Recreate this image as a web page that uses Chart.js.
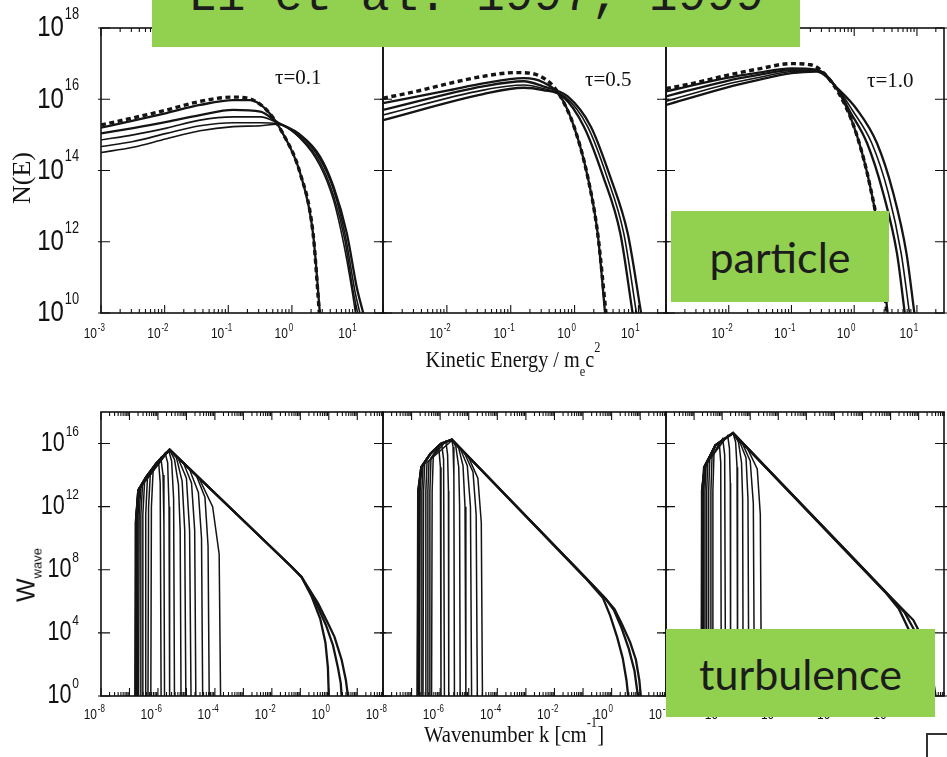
<!DOCTYPE html>
<html>
<head>
<meta charset="utf-8">
<title>Li et al. 1997, 1999</title>
<script src="https://cdn.jsdelivr.net/npm/chart.js@4.4.1/dist/chart.umd.min.js"></script>
<style>
  html, body { margin: 0; padding: 0; background: #fff; }
  #page { position: relative; width: 947px; height: 757px; overflow: hidden; background: #fff; }
  #page canvas { position: absolute; left: 0; top: 0; }
  .lbl { position: absolute; white-space: nowrap; color: #111; line-height: 1; }
  .serif { font-family: "Liberation Serif", "Times New Roman", serif; }
  .sans { font-family: "Liberation Sans", Arial, sans-serif; }
  .green { position: absolute; background: #92d050; overflow: hidden; color: #1c1c1c; }
  .green.word { display: flex; align-items: center; justify-content: center; font-family: Lato, "Open Sans", sans-serif; font-size: 43px; }
  .r { position: relative; }
</style>
</head>
<body>
<div id="page">
  <canvas id="e1" width="947" height="757"></canvas>
  <canvas id="e2" width="947" height="757"></canvas>
  <canvas id="e3" width="947" height="757"></canvas>
  <canvas id="w1" width="947" height="757"></canvas>
  <canvas id="w2" width="947" height="757"></canvas>
  <canvas id="w3" width="947" height="757"></canvas>

  <div class="lbl serif" style="left:275px;top:67px;font-size:21px">τ=0.1</div>
  <div class="lbl serif" style="left:585px;top:69px;font-size:21px">τ=0.5</div>
  <div class="lbl serif" style="left:867px;top:70px;font-size:21px">τ=1.0</div>

  <div class="lbl serif" style="left:22px;top:178px;font-size:26px;transform:translate(-50%,-50%) rotate(-90deg)">N(E)</div>
  <div class="lbl sans" style="left:26px;top:575px;font-size:25px;transform:translate(-50%,-50%) rotate(-90deg)">W<span class="r" style="font-size:13px;top:7px">wave</span></div>

  <div class="lbl serif" style="left:513px;top:348px;font-size:23px;transform:translateX(-50%) scaleX(0.88)">Kinetic Energy / m<span class="r" style="font-size:14px;top:9px">e</span>c<span class="r" style="font-size:14px;top:-15px">2</span></div>
  <div class="lbl serif" style="left:514px;top:723px;font-size:23px;transform:translateX(-50%) scaleX(0.9)">Wavenumber k [cm<span class="r" style="font-size:14px;top:-15px">-1</span>]</div>

  <div class="green" style="left:152px;top:0;width:648px;height:47px">
    <div style="position:absolute;left:0;width:648px;top:-27px;text-align:center;font-family:'Liberation Mono','DejaVu Sans Mono',monospace;font-size:48px;line-height:48px;white-space:nowrap">Li et al. 1997, 1999</div>
  </div>
  <div class="green word" style="left:671px;top:211px;width:218px;height:91px">particle</div>
  <div class="green word" style="left:666px;top:629px;width:269px;height:88px">turbulence</div>
  <div style="position:absolute;left:926px;top:733px;width:30px;height:30px;border:2px solid #333;border-right:none;box-sizing:border-box"></div>
</div>

<script>
const W = 947;
const H = 757;

// axis ranges
const TOP_X_RANGE = [1e-3, 27];
const TOP_Y_RANGE = [1e10, 1e18];
const BOT_X_RANGE = [1e-8, 80];
const BOT_Y_RANGE = [1, 1e18];

// tick labels (10^exp)
const topXTicksFirst = [1e-3, 1e-2, 1e-1, 1, 10];
const topXExpFirst = ['-3', '-2', '-1', '0', '1'];
const topXTicksRest = [1e-2, 1e-1, 1, 10];
const topXExpRest = ['-2', '-1', '0', '1'];
const topYTicks = [1e10, 1e12, 1e14, 1e16, 1e18];
const topYExp = ['10', '12', '14', '16', '18'];
const botXTicks = [1e-8, 1e-6, 1e-4, 1e-2, 1];
const botXExp = ['-8', '-6', '-4', '-2', '0'];
const botYTicks = [1, 1e4, 1e8, 1e12, 1e16];
const botYExp = ['0', '4', '8', '12', '16'];

// ---- particle spectra, tau = 0.1
const e1DashX = [1e-3, 3.2e-3, 1.07e-2, 3.6e-2, 0.12, 0.2, 0.4, 0.72, 1.35, 2.15, 2.7];
const e1DashY = [1.9e15, 3.0e15, 5.0e15, 8.7e15, 1.15e16, 1.07e16, 5.0e15, 1.1e15, 8.3e13, 1.7e12, 1e10];
const e1ThickX = [1e-3, 3.2e-3, 1.07e-2, 3.6e-2, 0.12, 0.22, 0.4, 0.72, 1.35, 2.15, 2.75];
const e1ThickY = [1.6e15, 2.5e15, 4.1e15, 6.9e15, 9.5e15, 9.5e15, 5.0e15, 1.1e15, 8.3e13, 1.7e12, 1e10];
const e1aX = [1e-3, 3.2e-3, 1.07e-2, 3.6e-2, 0.12, 0.32, 0.58, 1.35, 2.75, 4.5, 7.3, 10.5, 13.2];
const e1aY = [1.1e15, 1.55e15, 2.3e15, 3.6e15, 5.0e15, 4.5e15, 2.3e15, 1.0e15, 2.5e14, 3.5e13, 1.7e12, 5e10, 1e10];
const e1bX = [1e-3, 3.2e-3, 1.07e-2, 3.6e-2, 0.12, 0.32, 0.58, 1.35, 2.75, 4.5, 7.0, 9.8, 11.7];
const e1bY = [7.2e14, 1.0e15, 1.55e15, 2.6e15, 3.2e15, 3.2e15, 2.2e15, 9.5e14, 2.1e14, 2.9e13, 1.3e12, 4e10, 1e10];
const e1cX = [1e-3, 3.2e-3, 1.07e-2, 3.6e-2, 0.12, 0.32, 0.58, 1.35, 2.75, 4.5, 6.8, 9.2, 10.8];
const e1cY = [4.7e14, 6.5e14, 1.1e15, 1.8e15, 2.2e15, 2.2e15, 2.1e15, 8.5e14, 1.7e14, 2.0e13, 1.1e12, 4e10, 1e10];
const e1dX = [1e-3, 3.2e-3, 1.07e-2, 3.6e-2, 0.12, 0.32, 0.58, 1.35, 2.75, 4.5, 6.5, 8.7, 10.0];
const e1dY = [3.2e14, 4.5e14, 7.8e14, 1.3e15, 1.7e15, 1.8e15, 2.0e15, 8e14, 1.4e14, 1.5e13, 9e11, 5e10, 1e10];

// ---- particle spectra, tau = 0.5
const e2DashX = [1e-3, 3.3e-3, 1.1e-2, 3.7e-2, 0.12, 0.2, 0.42, 0.6, 0.98, 1.6, 2.3, 3.1];
const e2DashY = [1.07e16, 1.66e16, 2.8e16, 4.4e16, 5.6e16, 5.4e16, 2.8e16, 1.2e16, 1.7e15, 6.8e13, 1.7e12, 1e10];
const e2aX = [1e-3, 1.1e-2, 3.7e-2, 0.16, 0.32, 0.6, 0.98, 1.6, 2.3, 3.0];
const e2aY = [7.8e15, 1.8e16, 2.8e16, 3.9e16, 3.0e16, 1.2e16, 1.7e15, 6.8e13, 1.7e12, 1e10];
const e2bX = [1e-3, 3.7e-2, 0.16, 0.32, 0.78, 1.8, 3.6, 6.8, 11];
const e2bY = [5.0e15, 2.3e16, 3.2e16, 2.3e16, 1.2e16, 1.7e15, 6.8e13, 1.7e12, 1e10];
const e2cX = [1e-3, 3.7e-2, 0.16, 0.32, 0.7, 1.6, 3.2, 5.9, 9.3];
const e2cY = [3.6e15, 1.8e16, 2.5e16, 2.0e16, 1.2e16, 1.7e15, 6.8e13, 1.7e12, 1e10];
const e2dX = [1e-3, 3.7e-2, 0.16, 0.32, 0.65, 1.4, 2.8, 5.2, 8.1];
const e2dY = [2.6e15, 1.4e16, 2.1e16, 1.8e16, 1.2e16, 1.7e15, 6.8e13, 1.7e12, 1e10];

// ---- particle spectra, tau = 1.0
const e3DashX = [1e-3, 2.7e-3, 8.9e-3, 3.0e-2, 0.1, 0.2, 0.33, 0.69, 1.12, 1.8, 2.6, 3.3];
const e3DashY = [2.0e16, 2.8e16, 4.6e16, 7.1e16, 1.0e17, 9.3e16, 5.4e16, 7.8e15, 8.9e14, 3.5e13, 9.1e11, 1e10];
const e3aX = [1e-3, 8.9e-3, 3.0e-2, 0.1, 0.25, 0.58, 1.12, 1.8, 2.6, 3.4];
const e3aY = [1.66e16, 3.9e16, 5.6e16, 7.4e16, 6.8e16, 1.5e16, 8.9e14, 3.5e13, 9.1e11, 1e10];
const e3bX = [1e-3, 8.9e-3, 3.0e-2, 0.1, 0.25, 0.58, 0.83, 1.6, 2.9, 4.8, 6.4];
const e3bY = [1.2e16, 3.2e16, 4.8e16, 6.6e16, 6.5e16, 1.6e16, 5.0e15, 5.9e14, 2.3e13, 4.8e11, 1e10];
const e3cX = [1e-3, 8.9e-3, 3.0e-2, 0.1, 0.25, 0.58, 0.93, 1.9, 3.5, 5.6, 7.6];
const e3cY = [8.7e15, 2.6e16, 4.1e16, 6.0e16, 6.2e16, 1.7e16, 5.0e15, 5.9e14, 2.3e13, 4.8e11, 1e10];
const e3dX = [1e-3, 8.9e-3, 3.0e-2, 0.1, 0.25, 0.58, 1.12, 2.3, 4.2, 6.8, 9.1];
const e3dY = [6.9e15, 2.1e16, 3.5e16, 5.4e16, 6.0e16, 1.8e16, 5.0e15, 5.9e14, 2.3e13, 4.8e11, 1e10];

// ---- wave spectra, panel 1 (long tails + narrow early spectra)
const w1aX = [1.58e-7, 1.66e-7, 2.04e-7, 3.89e-7, 8.71e-7, 2.57e-6, 2.0e-3, 5.0e-2, 0.11, 0.42, 1.0, 1.58, 2.82, 3.98, 4.68];
const w1aY = [1, 1e11, 1.1e13, 7.6e13, 5.4e14, 4.1e15, 4.0e10, 1.5e8, 3.5e7, 7.4e5, 3.2e4, 5.6e3, 200, 10, 1];
const w1bX = [1.66e-7, 1.74e-7, 2.04e-7, 3.89e-7, 8.71e-7, 2.57e-6, 2.0e-3, 5.0e-2, 0.11, 0.25, 0.5, 0.76, 0.93, 1.0];
const w1bY = [1, 1e11, 1.1e13, 7.6e13, 5.4e14, 4.1e15, 4.0e10, 1.5e8, 3.5e7, 2.0e6, 7.9e4, 2.5e3, 63, 1];
const w1cX = [1.62e-7, 1.70e-7, 2.04e-7, 3.89e-7, 8.71e-7, 2.57e-6, 2.0e-3, 5.0e-2, 0.11, 0.32, 0.79, 1.41, 2.09, 2.63, 2.82];
const w1cY = [1, 1e11, 1.1e13, 7.6e13, 5.4e14, 4.1e15, 4.0e10, 1.5e8, 3.5e7, 1.26e6, 3.2e4, 1.6e3, 63, 6.3, 1];
const w1n1X = [5.62e-7, 5.89e-7, 6.76e-7, 1.05e-6, 1.20e-6, 1.29e-6];
const w1n1Y = [1, 1e12, 1.8e14, 7.9e14, 3.2e13, 1];
const w1n2X = [4.47e-7, 4.68e-7, 5.37e-7, 1.26e-6, 1.51e-6, 1.62e-6, 1.70e-6];
const w1n2Y = [1, 1e12, 1e14, 1.26e15, 1e14, 1e11, 1];
const w1n3X = [3.55e-7, 3.72e-7, 4.27e-7, 1.78e-6, 2.19e-6, 2.45e-6, 2.57e-6];
const w1n3Y = [1, 3.2e11, 6.3e13, 2.5e15, 6.3e14, 1e12, 1];
const w1n4X = [2.82e-7, 2.95e-7, 3.39e-7, 2.40e-6, 3.02e-6, 3.55e-6, 3.80e-6];
const w1n4Y = [1, 3.2e11, 3.5e13, 3.5e15, 7.9e14, 3.2e12, 1];
const w1n5X = [2.40e-7, 2.51e-7, 2.88e-7, 8.71e-7, 2.57e-6, 3.80e-6, 5.25e-6, 6.03e-6, 6.46e-6];
const w1n5Y = [1, 3.2e11, 2.5e13, 5.4e14, 4.0e15, 1e15, 2.5e13, 3.2e10, 1];
const w1n6X = [2.09e-7, 2.19e-7, 2.51e-7, 8.71e-7, 2.57e-6, 4.47e-6, 7.08e-6, 8.71e-6, 9.55e-6];
const w1n6Y = [1, 3.2e11, 1.6e13, 5.4e14, 4.0e15, 1.26e15, 4.0e13, 3.2e10, 1];
const w1n7X = [1.91e-7, 2.0e-7, 2.29e-7, 3.89e-7, 8.71e-7, 2.57e-6, 5.01e-6, 1.0e-5, 1.29e-5, 1.45e-5];
const w1n7Y = [1, 3.2e11, 1.26e13, 7.6e13, 5.4e14, 4.0e15, 1.26e15, 6.3e13, 3.2e10, 1];
const w1n8X = [1.78e-7, 1.86e-7, 2.04e-7, 3.89e-7, 8.71e-7, 2.57e-6, 7.94e-6, 1.51e-5, 1.95e-5, 2.14e-5];
const w1n8Y = [1, 3.2e11, 1.1e13, 7.6e13, 5.4e14, 4.0e15, 5.6e14, 3.2e13, 3.2e10, 1];
const w1n9X = [1.70e-7, 1.78e-7, 2.04e-7, 3.89e-7, 8.71e-7, 2.57e-6, 1.26e-5, 2.63e-5, 3.39e-5, 3.72e-5];
const w1n9Y = [1, 3.2e11, 1.1e13, 7.6e13, 5.4e14, 4.0e15, 2.5e14, 7.9e12, 1e10, 1];
const w1n10X = [1.62e-7, 1.70e-7, 2.04e-7, 3.89e-7, 8.71e-7, 2.57e-6, 2.24e-5, 4.47e-5, 5.75e-5, 6.31e-5];
const w1n10Y = [1, 3.2e11, 1.1e13, 7.6e13, 5.4e14, 4.0e15, 9.1e13, 4.0e12, 3.2e9, 1];
const w1n11X = [1.58e-7, 1.66e-7, 2.04e-7, 3.89e-7, 8.71e-7, 2.57e-6, 2.82e-5, 8.32e-5, 1.41e-4, 1.58e-4];
const w1n11Y = [1, 1e11, 1.1e13, 7.6e13, 5.4e14, 4.0e15, 6.0e13, 1e12, 1e9, 1];

// ---- wave spectra, panel 2
const w2aX = [1.62e-7, 1.70e-7, 2.19e-7, 4.57e-7, 1.07e-6, 2.57e-6, 0.117, 0.63, 1.26, 2.24, 4.47, 7.08, 9.33, 10.5];
const w2aY = [1, 1e13, 3.2e14, 2.3e15, 9.8e15, 1.8e16, 3.5e7, 1.4e6, 3.2e5, 4.0e4, 2.5e3, 200, 10, 1];
const w2bX = [1.66e-7, 1.74e-7, 2.19e-7, 4.57e-7, 1.07e-6, 2.57e-6, 0.117, 0.63, 1.2, 2.24, 3.98, 6.31, 8.32];
const w2bY = [1, 1e13, 3.2e14, 2.3e15, 9.8e15, 1.8e16, 3.5e7, 1.4e6, 2.8e5, 2.0e4, 1e3, 40, 1];
const w2cX = [1.70e-7, 1.78e-7, 2.19e-7, 4.57e-7, 1.07e-6, 2.57e-6, 0.117, 0.5, 0.89, 1.58, 2.45, 3.31, 3.8];
const w2cY = [1, 1e13, 3.2e14, 2.3e15, 9.8e15, 1.8e16, 3.2e7, 1.6e6, 1.26e5, 5.0e3, 250, 10, 1];
const w2n1X = [5.01e-7, 5.25e-7, 5.75e-7, 8.91e-7, 1.02e-6, 1.07e-6];
const w2n1Y = [1, 1e13, 1.6e15, 6.3e15, 3.2e14, 1];
const w2n2X = [4.17e-7, 4.37e-7, 4.79e-7, 1.12e-6, 1.32e-6, 1.41e-6];
const w2n2Y = [1, 1e13, 1.26e15, 1e16, 1e15, 1];
const w2n3X = [3.55e-7, 3.72e-7, 4.07e-7, 1.58e-6, 1.82e-6, 1.95e-6, 2.0e-6];
const w2n3Y = [1, 1e13, 7.9e14, 1.4e16, 2.0e15, 1e13, 1];
const w2n4X = [3.02e-7, 3.16e-7, 3.47e-7, 2.57e-6, 2.82e-6, 3.02e-6, 3.16e-6];
const w2n4Y = [1, 1e13, 6.3e14, 1.6e16, 6.3e15, 1e14, 1];
const w2n5X = [2.51e-7, 2.63e-7, 2.88e-7, 4.57e-7, 1.07e-6, 2.57e-6, 3.55e-6, 4.47e-6, 4.79e-6, 5.01e-6];
const w2n5Y = [1, 1e13, 5.0e14, 2.3e15, 9.8e15, 1.8e16, 6.3e15, 3.2e14, 1e12, 1];
const w2n6X = [2.19e-7, 2.29e-7, 2.51e-7, 4.57e-7, 1.07e-6, 2.57e-6, 4.47e-6, 6.31e-6, 7.41e-6, 7.94e-6];
const w2n6Y = [1, 1e13, 4.0e14, 2.3e15, 9.8e15, 1.8e16, 5.0e15, 4.0e14, 1e12, 1];
const w2n7X = [1.91e-7, 2.0e-7, 2.19e-7, 4.57e-7, 1.07e-6, 2.57e-6, 5.01e-6, 8.91e-6, 1.15e-5, 1.26e-5];
const w2n7Y = [1, 1e13, 3.2e14, 2.3e15, 9.8e15, 1.8e16, 5.0e15, 4.0e14, 1e12, 1];
const w2n8X = [1.74e-7, 1.82e-7, 2.19e-7, 4.57e-7, 1.07e-6, 2.57e-6, 7.08e-6, 1.41e-5, 1.82e-5, 2.0e-5];
const w2n8Y = [1, 1e13, 3.2e14, 2.3e15, 9.8e15, 1.8e16, 2.5e15, 1.6e14, 3.2e11, 1];
const w2n9X = [1.62e-7, 1.70e-7, 2.19e-7, 4.57e-7, 1.07e-6, 2.57e-6, 1.0e-5, 2.09e-5, 2.75e-5, 3.02e-5];
const w2n9Y = [1, 1e13, 3.2e14, 2.3e15, 9.8e15, 1.8e16, 1.26e15, 6.3e13, 1e11, 1];

// ---- wave spectra, panel 3
const w3aX = [1.82e-7, 1.91e-7, 2.40e-7, 5.75e-7, 2.45e-6, 3.16e-2, 1.0, 6.46, 12.6, 22.4, 31.6, 39.8];
const w3aY = [1, 1e13, 3.2e14, 7.8e15, 4.6e16, 1.15e9, 1.9e6, 6.5e4, 6.3e3, 316, 16, 1];
const w3bX = [1.86e-7, 1.95e-7, 2.40e-7, 5.75e-7, 2.45e-6, 3.16e-2, 1.0, 3.16, 7.94, 14.1, 22.4, 28.2];
const w3bY = [1, 1e13, 3.2e14, 7.8e15, 4.6e16, 1.15e9, 1.8e6, 2.0e5, 1e4, 631, 25, 1];
const w3cX = [1.91e-7, 2.0e-7, 2.40e-7, 5.75e-7, 2.45e-6, 3.16e-2, 0.63, 2.0, 4.47, 7.94, 11.2, 14.1];
const w3cY = [1, 1e13, 3.2e14, 7.8e15, 4.6e16, 1e9, 4.0e6, 3.2e5, 1.6e4, 794, 32, 1];
const w3n1X = [4.47e-7, 4.68e-7, 5.13e-7, 7.94e-7, 8.91e-7, 9.33e-7];
const w3n1Y = [1, 1e13, 2.5e15, 1e16, 6.3e14, 1];
const w3n2X = [3.80e-7, 3.98e-7, 4.37e-7, 1.05e-6, 1.23e-6, 1.32e-6];
const w3n2Y = [1, 1e13, 1.6e15, 2.0e16, 2.0e15, 1];
const w3n3X = [3.16e-7, 3.31e-7, 3.63e-7, 1.58e-6, 1.82e-6, 1.95e-6, 2.0e-6];
const w3n3Y = [1, 1e13, 1e15, 3.2e16, 5.0e15, 3.2e13, 1];
const w3n4X = [2.69e-7, 2.82e-7, 3.09e-7, 5.75e-7, 2.45e-6, 3.02e-6, 3.39e-6, 3.55e-6];
const w3n4Y = [1, 1e13, 7.9e14, 7.8e15, 4.6e16, 1.26e16, 3.2e14, 1];
const w3n5X = [2.34e-7, 2.45e-7, 2.69e-7, 5.75e-7, 2.45e-6, 3.80e-6, 4.90e-6, 5.37e-6, 5.62e-6];
const w3n5Y = [1, 1e13, 5.0e14, 7.8e15, 4.6e16, 1.26e16, 6.3e14, 3.2e12, 1];
const w3n6X = [2.09e-7, 2.19e-7, 2.51e-7, 5.75e-7, 2.45e-6, 4.47e-6, 7.08e-6, 8.32e-6, 8.91e-6];
const w3n6Y = [1, 1e13, 4.0e14, 7.8e15, 4.6e16, 1e16, 1.26e15, 3.2e12, 1];
const w3n7X = [1.95e-7, 2.04e-7, 2.34e-7, 5.75e-7, 2.45e-6, 5.62e-6, 1.0e-5, 1.29e-5, 1.41e-5];
const w3n7Y = [1, 1e13, 4.0e14, 7.8e15, 4.6e16, 7.9e15, 7.9e14, 1.6e12, 1];
const w3n8X = [1.82e-7, 1.91e-7, 2.19e-7, 5.75e-7, 2.45e-6, 7.94e-6, 1.78e-5, 2.29e-5, 2.51e-5];
const w3n8Y = [1, 1e13, 3.2e14, 7.8e15, 4.6e16, 5.0e15, 2.5e14, 3.2e11, 1];

// panel boxes on the page
const COLS = [[101, 383], [383, 666], [666, 944]];
const TOP_ROW = [28, 313];
const BOT_ROW = [412, 696];

const SANS = '"Liberation Sans", Arial, sans-serif';
const SQ = 0.8; // the scanned figure is horizontally squeezed

const DASH = { borderWidth: 3.4, borderDash: [5, 3.5] };
const THICK = { borderWidth: 2.3 };
const BUNDLE = { borderWidth: 1.6 };
// wave spectra are drawn with straight segments (sharp apex)
const FULL = { borderWidth: 2.3, cubicInterpolationMode: 'default', tension: 0 };
const NARROW = { borderWidth: 1.5, cubicInterpolationMode: 'default', tension: 0 };

function series(xs, ys, style) {
  return Object.assign({
    data: xs.map((x, i) => ({ x, y: ys[i] })),
    borderColor: '#141414',
    pointRadius: 0,
    fill: false,
    cubicInterpolationMode: 'monotone'
  }, style);
}

function powWidth(ctx, exp, size, expSize) {
  ctx.font = size + 'px ' + SANS;
  const a = ctx.measureText('10').width;
  ctx.font = expSize + 'px ' + SANS;
  const b = ctx.measureText(exp).width;
  return { main: a * SQ, all: (a + 1 + b) * SQ };
}

function drawPow(ctx, left, mid, exp, size, expSize, rise) {
  ctx.save();
  ctx.translate(left, mid);
  ctx.scale(SQ, 1);
  ctx.fillStyle = '#111';
  ctx.textAlign = 'left';
  ctx.textBaseline = 'middle';
  ctx.font = size + 'px ' + SANS;
  ctx.fillText('10', 0, 0);
  const a = ctx.measureText('10').width;
  ctx.font = expSize + 'px ' + SANS;
  ctx.fillText(exp, a + 1, -size * rise);
  ctx.restore();
}

// frame, inward ticks and 10^n labels
const frame = {
  id: 'frame',
  afterDatasetsDraw(chart, args, opt) {
    const { ctx, chartArea: a } = chart;
    const x = chart.scales.x;
    const y = chart.scales.y;
    ctx.save();
    ctx.strokeStyle = '#111';
    ctx.lineWidth = 1.6;
    ctx.strokeRect(a.left, a.top, a.right - a.left, a.bottom - a.top);

    ctx.lineWidth = 1.1;
    ctx.beginPath();
    const d0 = Math.floor(Math.log10(x.min));
    const d1 = Math.ceil(Math.log10(x.max));
    for (let d = d0; d <= d1; d++) {
      for (let m = 1; m <= 9; m++) {
        const v = m * Math.pow(10, d);
        if (v < x.min * 0.999 || v > x.max) continue;
        const px = x.getPixelForValue(v);
        const len = m === 1 ? 8 : 4;
        ctx.moveTo(px, a.bottom); ctx.lineTo(px, a.bottom - len);
        ctx.moveTo(px, a.top); ctx.lineTo(px, a.top + len);
      }
    }
    opt.yTicks.forEach((v) => {
      const py = y.getPixelForValue(v);
      ctx.moveTo(a.left - 3, py); ctx.lineTo(a.left + 9, py);
      ctx.moveTo(a.right - 9, py); ctx.lineTo(a.right + 3, py);
    });
    ctx.stroke();

    opt.xTicks.forEach((v, i) => {
      const w = powWidth(ctx, opt.xExp[i], opt.xSize, opt.xExpSize);
      drawPow(ctx, x.getPixelForValue(v) - 4 - w.main, opt.xLabelY, opt.xExp[i], opt.xSize, opt.xExpSize, 0.38);
    });
    if (opt.showY) {
      opt.yTicks.forEach((v, i) => {
        const w = powWidth(ctx, opt.yExp[i], opt.ySize, opt.yExpSize);
        drawPow(ctx, 79 - w.all, y.getPixelForValue(v), opt.yExp[i], opt.ySize, opt.yExpSize, 0.45);
      });
    }
    ctx.restore();
  }
};

function makeChart(id, col, row, xr, yr, datasets, frameOpt) {
  return new Chart(document.getElementById(id), {
    type: 'line',
    data: { datasets },
    options: {
      responsive: false,
      animation: false,
      events: [],
      layout: { padding: { left: col[0], right: W - col[1], top: row[0], bottom: H - row[1] } },
      scales: {
        x: { type: 'logarithmic', display: false, bounds: 'data', min: xr[0], max: xr[1] },
        y: { type: 'logarithmic', display: false, bounds: 'data', min: yr[0], max: yr[1] }
      },
      plugins: { legend: { display: false }, tooltip: { enabled: false }, frame: frameOpt }
    },
    plugins: [frame]
  });
}

function topFrame(first) {
  return {
    xTicks: first ? topXTicksFirst : topXTicksRest,
    xExp: first ? topXExpFirst : topXExpRest,
    yTicks: topYTicks, yExp: topYExp, showY: first,
    xSize: 15, xExpSize: 10, xLabelY: 334, ySize: 30, yExpSize: 16
  };
}

function botFrame(first) {
  return {
    xTicks: botXTicks, xExp: botXExp,
    yTicks: botYTicks, yExp: botYExp, showY: first,
    xSize: 15, xExpSize: 10, xLabelY: 715, ySize: 27, yExpSize: 15
  };
}

makeChart('e1', COLS[0], TOP_ROW, TOP_X_RANGE, TOP_Y_RANGE, [
  series(e1DashX, e1DashY, DASH),
  series(e1ThickX, e1ThickY, THICK),
  series(e1aX, e1aY, THICK),
  series(e1bX, e1bY, BUNDLE),
  series(e1cX, e1cY, BUNDLE),
  series(e1dX, e1dY, BUNDLE)
], topFrame(true));

makeChart('e2', COLS[1], TOP_ROW, TOP_X_RANGE, TOP_Y_RANGE, [
  series(e2DashX, e2DashY, DASH),
  series(e2aX, e2aY, THICK),
  series(e2bX, e2bY, THICK),
  series(e2cX, e2cY, BUNDLE),
  series(e2dX, e2dY, THICK)
], topFrame(false));

makeChart('e3', COLS[2], TOP_ROW, TOP_X_RANGE, TOP_Y_RANGE, [
  series(e3DashX, e3DashY, DASH),
  series(e3aX, e3aY, THICK),
  series(e3bX, e3bY, THICK),
  series(e3cX, e3cY, BUNDLE),
  series(e3dX, e3dY, THICK)
], topFrame(false));

makeChart('w1', COLS[0], BOT_ROW, BOT_X_RANGE, BOT_Y_RANGE, [
  series(w1aX, w1aY, FULL),
  series(w1bX, w1bY, FULL),
  series(w1cX, w1cY, FULL),
  series(w1n1X, w1n1Y, NARROW),
  series(w1n2X, w1n2Y, NARROW),
  series(w1n3X, w1n3Y, NARROW),
  series(w1n4X, w1n4Y, NARROW),
  series(w1n5X, w1n5Y, NARROW),
  series(w1n6X, w1n6Y, NARROW),
  series(w1n7X, w1n7Y, NARROW),
  series(w1n8X, w1n8Y, NARROW),
  series(w1n9X, w1n9Y, NARROW),
  series(w1n10X, w1n10Y, NARROW),
  series(w1n11X, w1n11Y, NARROW)
], botFrame(true));

makeChart('w2', COLS[1], BOT_ROW, BOT_X_RANGE, BOT_Y_RANGE, [
  series(w2aX, w2aY, FULL),
  series(w2bX, w2bY, FULL),
  series(w2cX, w2cY, FULL),
  series(w2n1X, w2n1Y, NARROW),
  series(w2n2X, w2n2Y, NARROW),
  series(w2n3X, w2n3Y, NARROW),
  series(w2n4X, w2n4Y, NARROW),
  series(w2n5X, w2n5Y, NARROW),
  series(w2n6X, w2n6Y, NARROW),
  series(w2n7X, w2n7Y, NARROW),
  series(w2n8X, w2n8Y, NARROW),
  series(w2n9X, w2n9Y, NARROW)
], botFrame(false));

makeChart('w3', COLS[2], BOT_ROW, BOT_X_RANGE, BOT_Y_RANGE, [
  series(w3aX, w3aY, FULL),
  series(w3bX, w3bY, FULL),
  series(w3cX, w3cY, FULL),
  series(w3n1X, w3n1Y, NARROW),
  series(w3n2X, w3n2Y, NARROW),
  series(w3n3X, w3n3Y, NARROW),
  series(w3n4X, w3n4Y, NARROW),
  series(w3n5X, w3n5Y, NARROW),
  series(w3n6X, w3n6Y, NARROW),
  series(w3n7X, w3n7Y, NARROW),
  series(w3n8X, w3n8Y, NARROW)
], botFrame(false));
</script>
</body>
</html>
